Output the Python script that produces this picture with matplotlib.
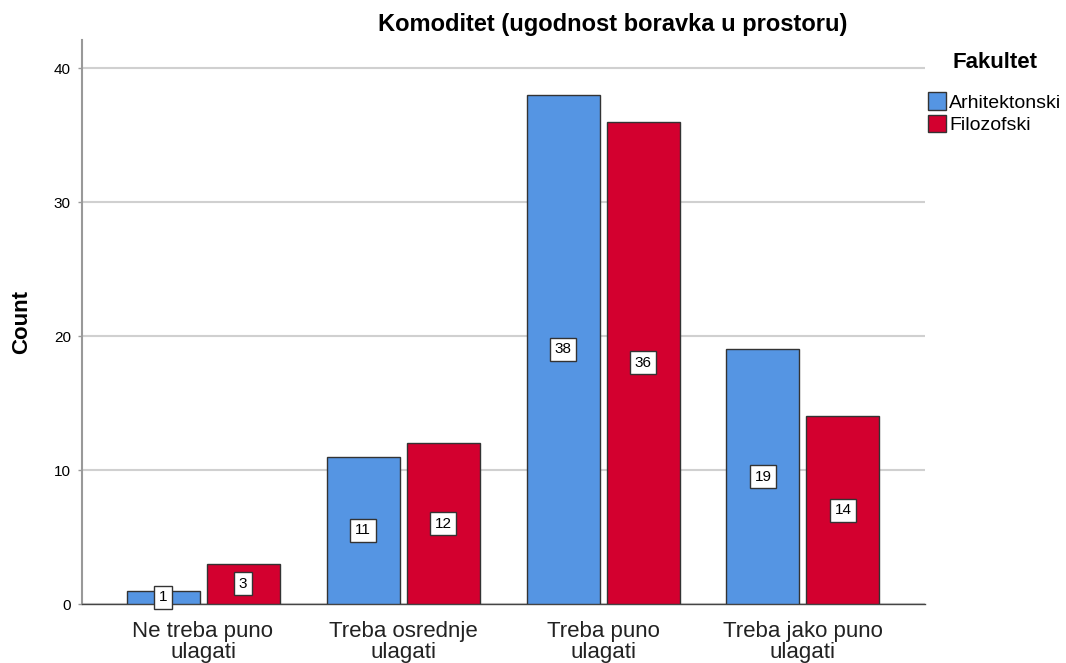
import matplotlib
matplotlib.use("Agg")
import matplotlib.pyplot as plt
import numpy as np

categories = ["Ne treba puno\nulagati", "Treba osrednje\nulagati", "Treba puno\nulagati", "Treba jako puno\nulagati"]
series_names = ["Arhitektonski", "Filozofski"]
arhitektonski = [1, 11, 38, 19]
filozofski = [3, 12, 36, 14]
yticks = [0, 10, 20, 30, 40]

plt.rcParams['font.family'] = ['Liberation Sans', 'DejaVu Sans']

fig = plt.figure(figsize=(10.66, 6.63), dpi=100)
ax = fig.add_axes([82/1066, 1-604/663, (925-82)/1066, (604-40)/663])

colors = ["#5595E3", "#D3002F"]
x = np.arange(len(categories))
width = 0.365
offsets = [-0.2, 0.2]
for vals, off, col, name in zip([arhitektonski, filozofski], offsets, colors, series_names):
    ax.bar(x + off, vals, width, color=col, edgecolor="#333333", linewidth=1.0, label=name, zorder=3)
    for xi, v in zip(x + off, vals):
        ax.text(xi, v / 2, str(v), ha="center", va="center", fontsize=11, zorder=5,
                bbox=dict(boxstyle="square,pad=0.3", fc="white", ec="#333333", lw=1.0))

ax.set_xlim(-0.605, 3.61)
ax.set_ylim(0, 42.1)
ax.set_yticks(yticks)
ax.set_yticklabels([str(t) for t in yticks], fontsize=11)
ax.set_xticks(x)
ax.set_xticklabels(categories, fontsize=16, color="#222222", linespacing=1.0)
ax.tick_params(axis="x", length=0, pad=12)
ax.tick_params(axis="y", length=3, width=1, color="#999999", pad=5)
ax.grid(axis="y", color="#D0D0D0", linewidth=1.5, zorder=0)
ax.set_axisbelow(True)
for s in ["top", "right"]:
    ax.spines[s].set_visible(False)
ax.spines["left"].set_color("#999999")
ax.spines["left"].set_linewidth(1.5)
ax.spines["bottom"].set_color("#444444")
ax.spines["bottom"].set_linewidth(1.0)

fig.text(613/1066, 1-25/663, "Komoditet (ugodnost boravka u prostoru)", ha="center", va="center",
         fontsize=17, fontweight="bold")
fig.text(22/1066, 1-322/663, "Count", ha="center", va="center", rotation=90,
         fontsize=16, fontweight="bold")

leg = fig.legend(loc="upper left", bbox_to_anchor=(928/1066, 1-52/663), frameon=False,
                 fontsize=14, title="Fakultet", handlelength=0.9, handleheight=1.0,
                 handletextpad=0.2, labelspacing=0.15, borderaxespad=0, borderpad=0)
leg.get_title().set_fontweight("bold")
leg.get_title().set_fontsize(16)
leg._legend_box.sep = 14

fig.savefig("out.png", dpi=100)
